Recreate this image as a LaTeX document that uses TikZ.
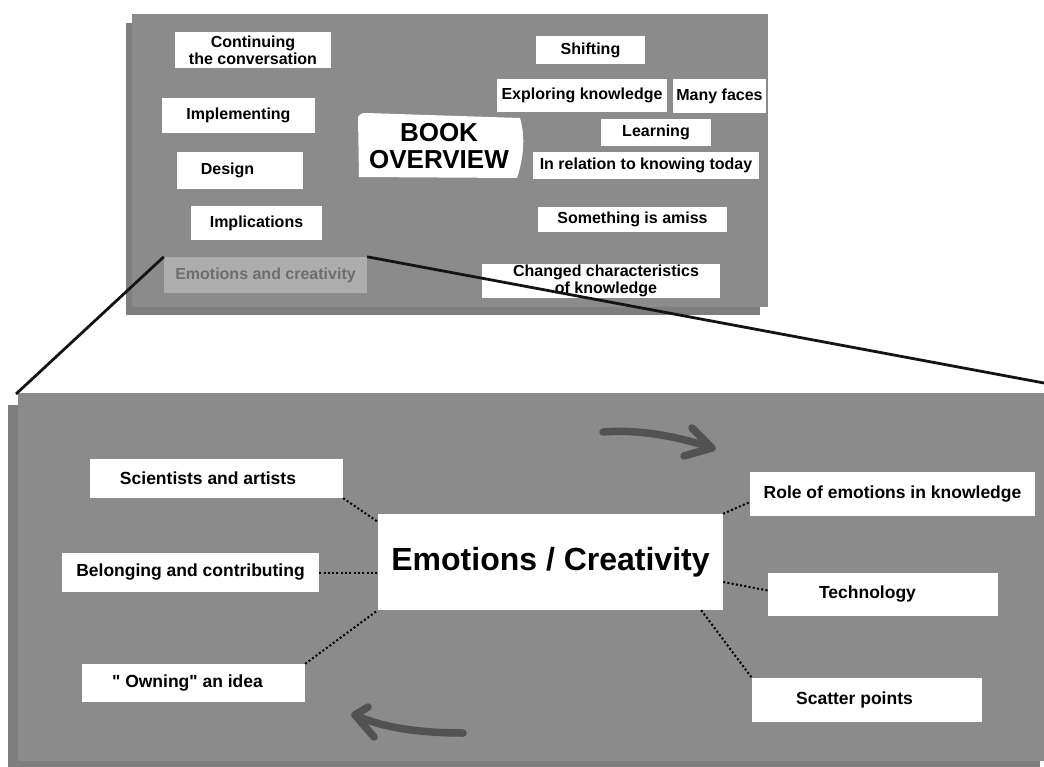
\documentclass[tikz,border=0pt]{standalone}
\usepackage{fontspec}
\setmainfont{Liberation Sans}[Ligatures=TeXOff]
\definecolor{panelfront}{HTML}{8B8B8B}
\definecolor{panelback}{HTML}{7E7E7E}
\definecolor{arrowgray}{HTML}{525252}
\definecolor{focusfill}{HTML}{ADADAD}
\definecolor{focustext}{HTML}{6E6E6E}
\begin{document}
\begin{tikzpicture}[x=1pt,y=-1pt,
  card/.style={fill=white, inner sep=0pt, align=center,
    font=\bfseries\fontsize{16}{17}\selectfont},
  bigcard/.style={card, font=\bfseries\fontsize{17.5}{20}\selectfont},
  link/.style={line width=2pt, dash pattern=on 2pt off 2.3pt, black},
  zoomline/.style={line width=2.8pt, black!92},
  swoosh/.style={line width=7.5pt, draw=arrowgray, line cap=round, line join=round},
]
\useasboundingbox (0,0) rectangle (1044,767);

% ---- overview board (two stacked sheets) ----
\fill[panelback] (126,23) rectangle (760,315);
\fill[panelfront] (132,14) rectangle (768,307);

% ---- detail board (two stacked sheets) ----
\fill[panelback] (8,405) rectangle (1040,767);
\fill[panelfront] (18,393) rectangle (1044,761);
\coordinate (dl) at (16,394);
\coordinate (dr) at (1044,383);

% ---- overview cards ----
\node[card, minimum width=156, minimum height=36] (cont) at (253,50) {Continuing\\the conversation};
\node[card, minimum width=153, minimum height=35] (impl) at (238.5,115.5) {Implementing};
\node[card, minimum width=126, minimum height=37] (design) at (240,170.5) {Design\hspace*{25pt}};
\node[card, minimum width=131, minimum height=34] (implic) at (256.5,223) {Implications};
\node[card, fill=focusfill, text=focustext, minimum width=203, minimum height=36] (emo) at (265.5,275) {Emotions and creativity};

\fill[white] (358,117) .. controls (359,114) and (362,113) .. (366,113) -- (520,118)
  .. controls (526,138) and (523,160) .. (517,178) -- (359,177) -- cycle;
\node[inner sep=0pt, align=center, font=\bfseries\fontsize{26}{27}\selectfont] (book) at (439,146) {BOOK\\OVERVIEW};

\node[card, minimum width=109, minimum height=28] (shift) at (590.5,50) {Shifting};
\node[card, minimum width=170, minimum height=33] (explore) at (582,95.5) {Exploring knowledge};
\node[card, minimum width=93, minimum height=34] (faces) at (719.5,96) {Many faces};
\node[card, minimum width=110, minimum height=27] (learn) at (656,132.5) {Learning};
\node[card, minimum width=226, minimum height=27] (relation) at (646,165.5) {In relation to knowing today};
\node[card, minimum width=189, minimum height=25] (amiss) at (632.5,219.5) {Something is amiss};
\node[card, minimum width=238, minimum height=34] (changed) at (601,281) {\hspace*{10pt}Changed characteristics\\\hspace*{10pt}of knowledge};

% ---- detail cards ----
\node[card, minimum width=345, minimum height=96, font=\bfseries\fontsize{32}{36}\selectfont] (centre) at (550.5,562) {Emotions / Creativity};
\node[bigcard, minimum width=253, minimum height=39] (sci) at (216.5,478.5) {Scientists and artists\hspace*{17pt}};
\node[bigcard, minimum width=257, minimum height=39] (belong) at (190.5,572.5) {Belonging and contributing};
\node[bigcard, minimum width=223, minimum height=38] (own) at (193.5,683) {" Owning" an idea\hspace*{12pt}};
\node[bigcard, minimum width=285, minimum height=44] (role) at (892.5,494) {Role of emotions in knowledge};
\node[bigcard, minimum width=230, minimum height=43] (tech) at (883,594.5) {Technology\hspace*{31pt}};
\node[bigcard, minimum width=230, minimum height=44] (scatter) at (867,700) {Scatter points\hspace*{25pt}};

% ---- dotted links to the central card ----
\draw[link] (sci.south east) -- ([yshift=-8pt]centre.north west);
\draw[link] (belong.east) -- (centre.west |- belong.east);
\draw[link] (own.north east) -- (centre.south west);
\draw[link] (centre.north east) -- ([yshift=-8pt]role.west);
\draw[link] ([yshift=-20pt]centre.east) -- ([yshift=4pt]tech.west);
\draw[link] ([xshift=-22pt]centre.south east) -- (scatter.north west);

% ---- zoom lines from the focused card ----
\draw[zoomline] (emo.north west) -- (dl);
\draw[zoomline] (emo.north east) -- (dr);

% ---- hand-drawn turning arrows ----
\draw[swoosh] (603,432) .. controls (640,429) and (680,437) .. (712,448);
\draw[swoosh] (692,428) -- (712,448) -- (684,456);
\draw[swoosh] (463,733) .. controls (425,733) and (385,729) .. (355,715);
\draw[swoosh] (368,707) -- (355,715) -- (374,737);
\end{tikzpicture}
\end{document}
